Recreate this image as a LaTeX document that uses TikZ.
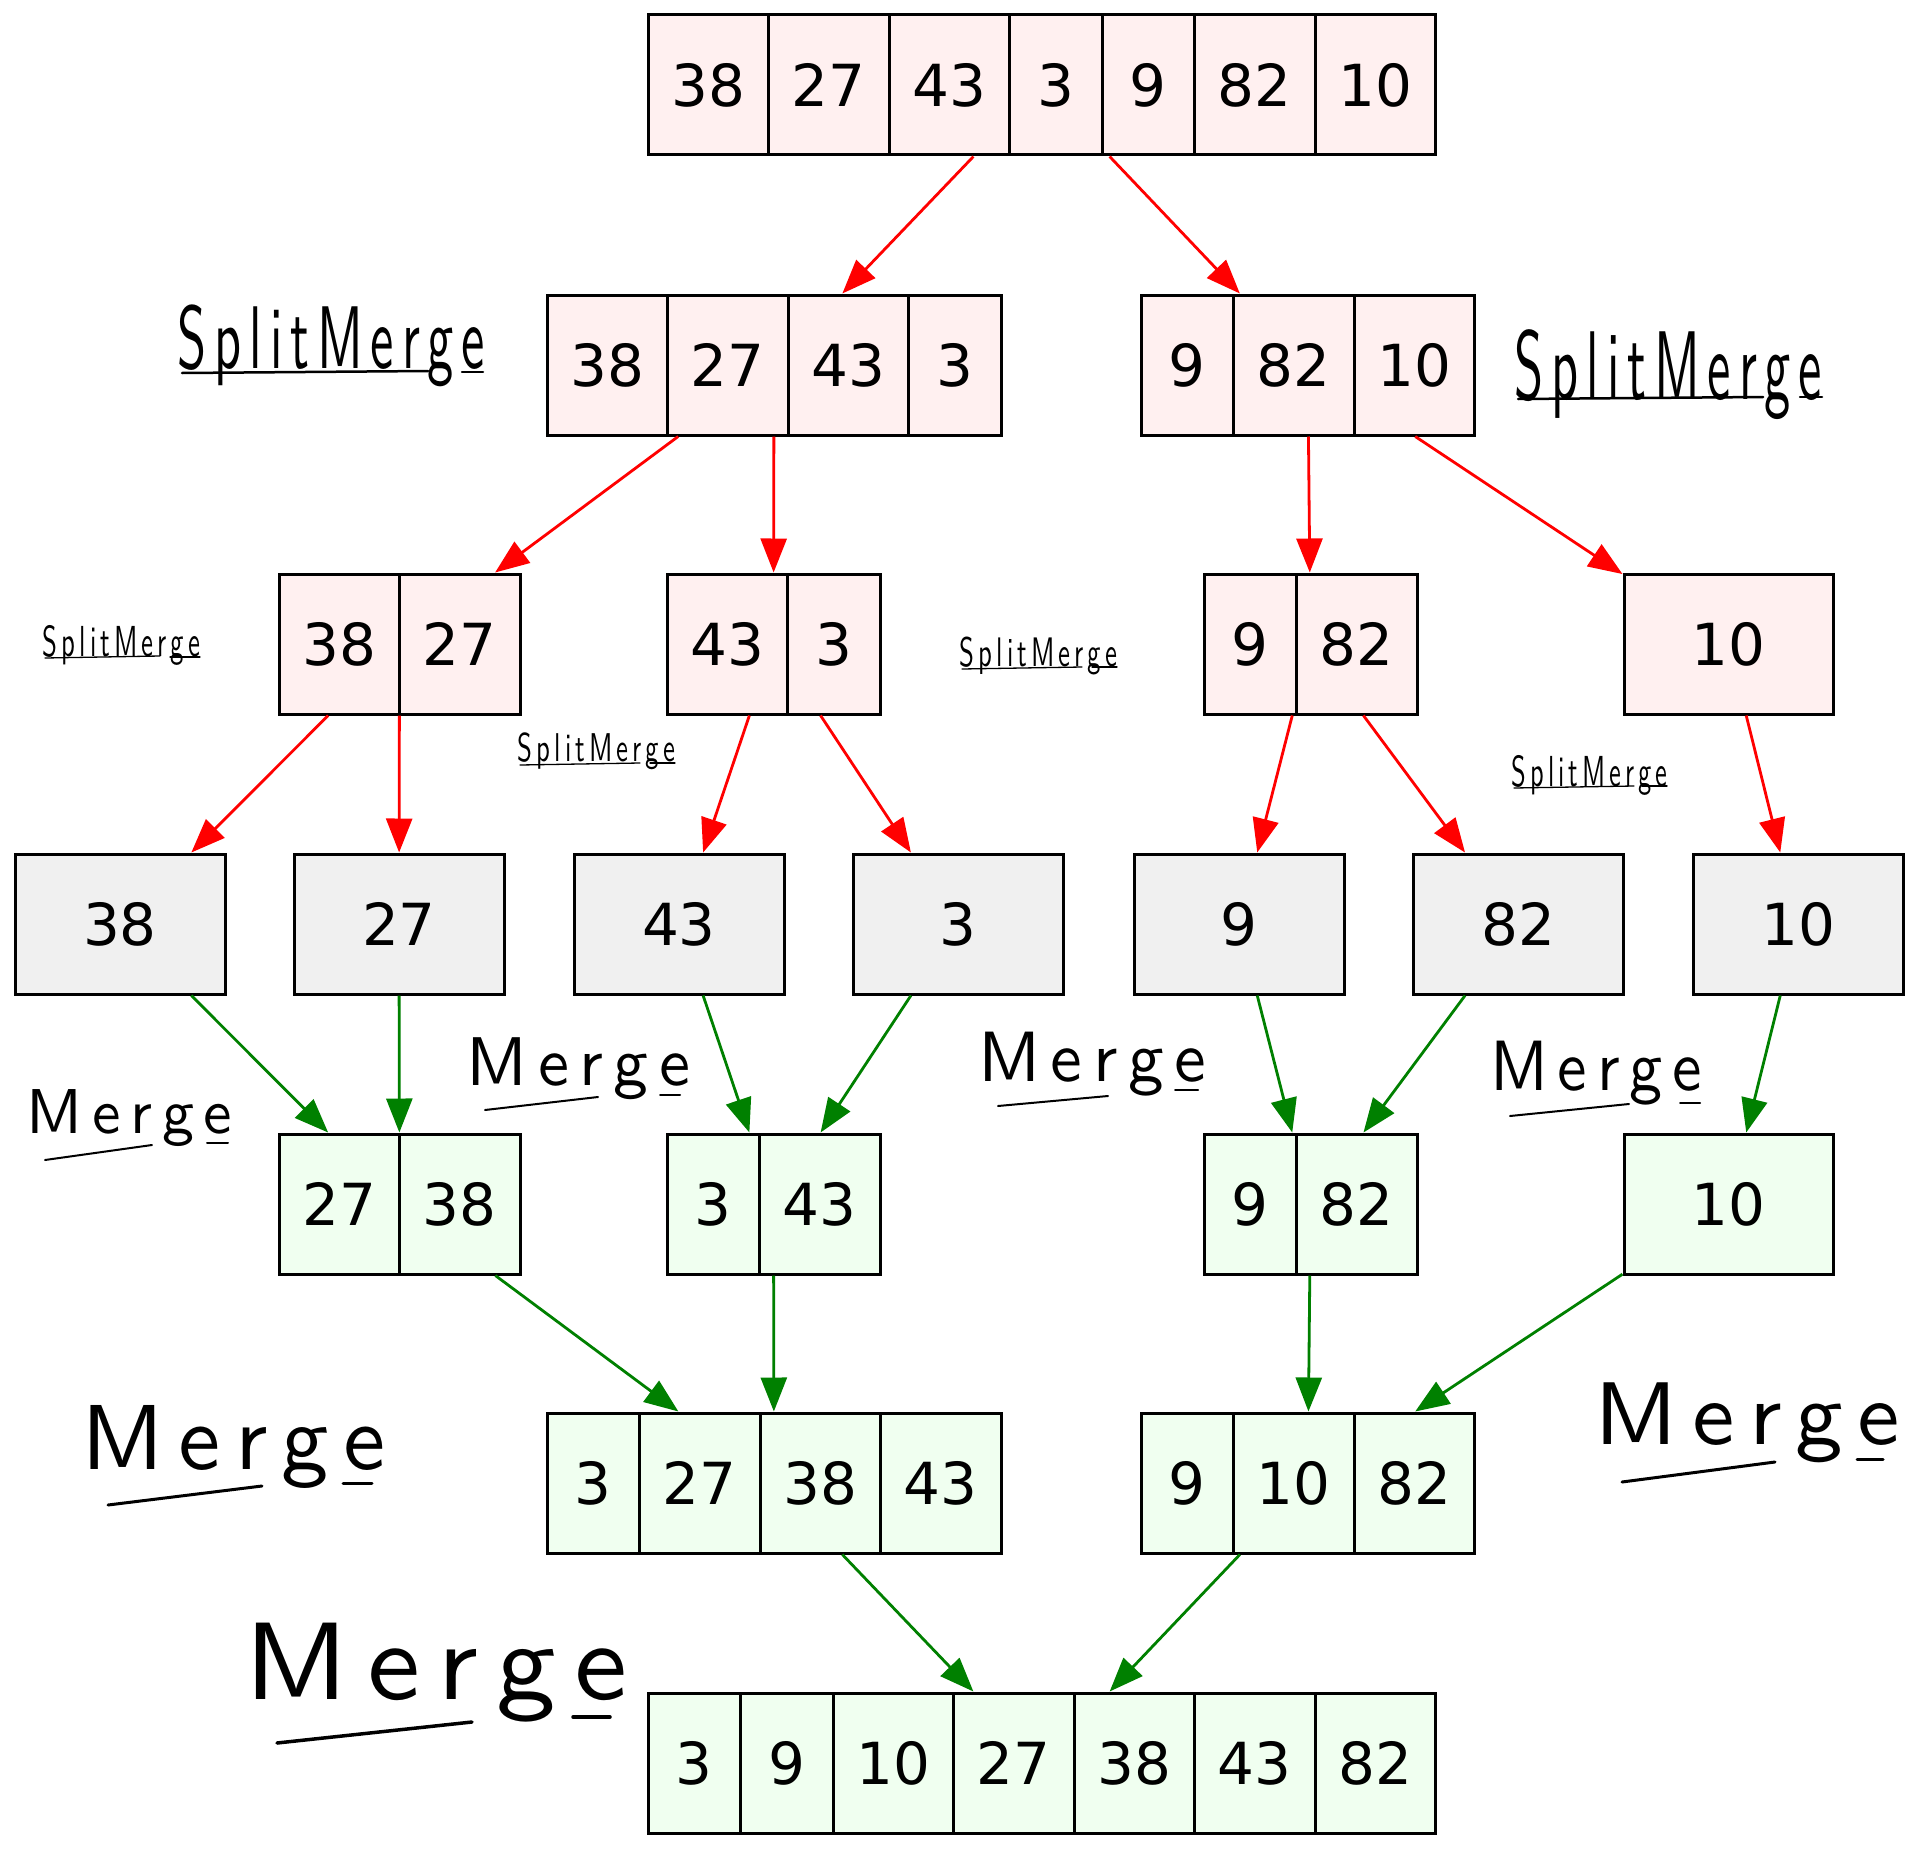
\documentclass[tikz,border=0pt]{standalone}
\usepackage{fontspec}
\usepackage{graphicx}
\setmainfont{DejaVu Sans}
\newfontfamily\handfont{lmsans10-regular.otf}[LetterSpace=15]
\usetikzlibrary{arrows.meta}
\definecolor{pinkf}{RGB}{255,240,240}
\definecolor{greyf}{RGB}{240,240,240}
\definecolor{greenf}{RGB}{240,255,240}
\definecolor{edgegreen}{RGB}{0,128,0}
\tikzset{
  cellbox/.style={draw=black, line width=3pt, minimum height=140pt, inner sep=0pt,
    font=\fontsize{58}{60}\selectfont},
  recbox/.style={draw=black, line width=3pt, minimum height=140pt, inner sep=0pt},
  splitedge/.style={draw=red, line width=2.8pt, -{Triangle[length=34pt,width=26pt]}},
  mergeedge/.style={draw=edgegreen, line width=2.8pt, -{Triangle[length=34pt,width=26pt]}},
  hand/.style={inner sep=0pt, font=\handfont},
  handline/.style={draw=black, line cap=round, line width=#1},
}
\newcommand\record[5]{%
  \xdef\rx{#2}%
  \foreach \w/\lab [count=\i] in {#5}{%
    \node[cellbox, fill=#4, minimum width=\w pt] (#1-\i) at ({\rx+\w/2},#3) {\lab};
    \pgfmathsetmacro\nx{\rx+\w}\xdef\rx{\nx}%
  }%
  \pgfmathsetmacro\rw{\rx-#2}\pgfmathsetmacro\rc{(\rx+#2)/2}%
  \node[recbox, minimum width=\rw pt] (#1) at (\rc,#3) {};
}
\newcommand\hw[6]{%
  \pgfmathsetmacro\hwW{#4-#2}\pgfmathsetmacro\hwH{#5-#3}%
  \node[hand] (#1) at ({(#2+#4)/2},{(#3+#5)/2}) {\resizebox*{\hwW pt}{\hwH pt}{#6}};
}
\begin{document}
\begin{tikzpicture}[x=1pt,y=-1pt]
\useasboundingbox (0,0) rectangle (1920,1849);
% row 1
\record{top}{648}{85}{pinkf}{120.5/38,120.5/27,120.5/43,92.5/3,92.5/9,120.5/82,120.5/10}
% row 2
\record{L}{547}{365}{pinkf}{120.5/38,120.5/27,120.5/43,92.5/3}
\record{R}{1141}{365}{pinkf}{92.5/9,120.5/82,120.5/10}
% row 3
\record{LL}{279}{644}{pinkf}{120.5/38,120.5/27}
\record{LR}{667}{644}{pinkf}{120.5/43,92.5/3}
\record{RL}{1204}{644}{pinkf}{92.5/9,120.5/82}
\record{RR}{1624}{644}{pinkf}{209/10}
% row 4 leaves
\record{a}{15}{924}{greyf}{210/38}
\record{b}{294}{924}{greyf}{210/27}
\record{c}{574}{924}{greyf}{210/43}
\record{d}{853}{924}{greyf}{210/3}
\record{e}{1134}{924}{greyf}{210/9}
\record{f}{1413}{924}{greyf}{210/82}
\record{g}{1693}{924}{greyf}{210/10}
% row 5
\record{M1}{279}{1204}{greenf}{120.5/27,120.5/38}
\record{M2}{667}{1204}{greenf}{92.5/3,120.5/43}
\record{M3}{1204}{1204}{greenf}{92.5/9,120.5/82}
\record{M4}{1624}{1204}{greenf}{209/10}
% row 6
\record{N1}{547}{1483}{greenf}{92.5/3,120.5/27,120.5/38,120.5/43}
\record{N2}{1141}{1483}{greenf}{92.5/9,120.5/10,120.5/82}
% row 7
\record{F}{648}{1763}{greenf}{92.5/3,92.5/9,120.5/10,120.5/27,120.5/38,120.5/43,120.5/82}
% split edges
\draw[splitedge] (top) -- (L);
\draw[splitedge] (top) -- (R);
\draw[splitedge] (L) -- (LL);
\draw[splitedge] (L) -- (LR);
\draw[splitedge] (R) -- (RL);
\draw[splitedge] (R) -- (RR);
\draw[splitedge] (LL) -- (a);
\draw[splitedge] (LL) -- (b);
\draw[splitedge] (LR) -- (c);
\draw[splitedge] (LR) -- (d);
\draw[splitedge] (RL) -- (e);
\draw[splitedge] (RL) -- (f);
\draw[splitedge] (RR) -- (g);
% merge edges
\draw[mergeedge] (a) -- (M1);
\draw[mergeedge] (b) -- (M1);
\draw[mergeedge] (c) -- (M2);
\draw[mergeedge] (d) -- (M2);
\draw[mergeedge] (e) -- (M3);
\draw[mergeedge] (f) -- (M3);
\draw[mergeedge] (g) -- (M4);
\draw[mergeedge] (M1) -- (N1);
\draw[mergeedge] (M2) -- (N1);
\draw[mergeedge] (M3) -- (N2);
\draw[mergeedge] (M4) -- (N2);
\draw[mergeedge] (N1) -- (F);
\draw[mergeedge] (N2) -- (F);
% handwritten labels
\hw{hA}{178}{305}{485}{387}{SplitMerge}
\draw[handline=2.5pt] (182,373) -- (428,371); \draw[handline=2.5pt] (462,372) -- (483,372);
\hw{hB}{1515}{330}{1822}{420}{SplitMerge}
\draw[handline=2.5pt] (1518,399) -- (1763,397); \draw[handline=2.5pt] (1800,397) -- (1822,397);
\hw{hC}{43}{625}{200}{665}{SplitMerge}
\draw[handline=1.3pt] (45,658) -- (160,656); \draw[handline=1.3pt] (170,657) -- (200,657);
\hw{hD}{518}{733}{675}{770}{SplitMerge}
\draw[handline=1.3pt] (520,765) -- (640,763); \draw[handline=1.3pt] (650,763) -- (675,763);
\hw{hE}{960}{637}{1117}{675}{SplitMerge}
\draw[handline=1.3pt] (962,669) -- (1082,667); \draw[handline=1.3pt] (1092,667) -- (1117,667);
\hw{hF}{1512}{755}{1667}{795}{SplitMerge}
\draw[handline=1.3pt] (1514,788) -- (1634,786); \draw[handline=1.3pt] (1642,786) -- (1667,786);
\hw{hG}{27}{1090}{232}{1147}{Merge}
\draw[handline=2pt] (45,1160) -- (152,1145); \draw[handline=2pt] (207,1143) -- (228,1143);
\hw{hH}{467}{1038}{690}{1100}{Merge}
\draw[handline=2pt] (485,1110) -- (598,1097); \draw[handline=2pt] (660,1095) -- (680,1095);
\hw{hI}{978}{1032}{1206}{1096}{Merge}
\draw[handline=2pt] (998,1106) -- (1108,1096); \draw[handline=2pt] (1175,1090) -- (1198,1090);
\hw{hJ}{1490}{1041}{1702}{1105}{Merge}
\draw[handline=2pt] (1510,1116) -- (1629,1104); \draw[handline=2pt] (1680,1103) -- (1700,1103);
\hw{hK}{82}{1405}{385}{1488}{Merge}
\draw[handline=3pt] (108,1505) -- (262,1486); \draw[handline=3pt] (343,1483) -- (372,1483);
\hw{hL}{1595}{1383}{1900}{1463}{Merge}
\draw[handline=3pt] (1622,1482) -- (1775,1462); \draw[handline=3pt] (1857,1459) -- (1883,1459);
\hw{hM}{245}{1623}{627}{1722}{Merge}
\draw[handline=3.5pt] (277,1743) -- (472,1722); \draw[handline=3.5pt] (573,1717) -- (610,1717);
\end{tikzpicture}
\end{document}
